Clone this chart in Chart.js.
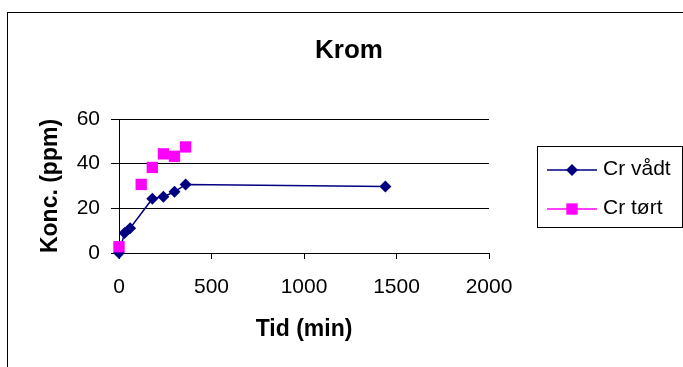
<!DOCTYPE html>
<html>
<head>
<meta charset="utf-8">
<script src="https://cdn.jsdelivr.net/npm/chart.js@4/dist/chart.umd.min.js"></script>
<style>
  html, body { margin: 0; padding: 0; background: #ffffff; }
  #wrap { width: 683px; height: 367px; position: relative; }
  canvas { display: block; }
</style>
</head>
<body>
<div id="wrap"><canvas id="c" width="683" height="367"></canvas></div>
<script>
// ---- data ----
const chartTitle = "Krom";
const xTitle = "Tid (min)";
const yTitle = "Konc. (ppm)";
const seriesNames = ["Cr vådt", "Cr tørt"];
const wetTimes = [0, 30, 60, 180, 240, 300, 360, 1440];
const wetValues = [0, 8.9, 11.1, 24.3, 25.2, 27.4, 30.7, 29.8];
const dryTimes = [0, 120, 180, 240, 300, 360];
const dryValues = [2.8, 30.7, 38.3, 44.4, 43.3, 47.5];
const xTicks = [0, 500, 1000, 1500, 2000];
const yTicks = [0, 20, 40, 60];

const FONT = "'Liberation Sans', Arial, sans-serif";
const NAVY = "#000080";
const MAGENTA = "#FF00FF";

const toPoints = (xs, ys) => xs.map((x, i) => ({ x: x, y: ys[i] }));

function drawMarker(ctx, style, x, y, r, color) {
  ctx.save();
  ctx.fillStyle = color;
  ctx.beginPath();
  if (style === 'rectRot') {
    ctx.moveTo(x, y - r); ctx.lineTo(x + r, y); ctx.lineTo(x, y + r); ctx.lineTo(x - r, y);
    ctx.closePath();
  } else {
    const s = Math.SQRT1_2 * r;
    ctx.rect(x - s, y - s, 2 * s, 2 * s);
  }
  ctx.fill();
  ctx.restore();
}

const decorPlugin = {
  id: 'decor',
  beforeDraw(chart) {
    const ctx = chart.ctx;
    ctx.save();
    ctx.fillStyle = '#ffffff';
    ctx.fillRect(0, 0, chart.width, chart.height);
    ctx.restore();
  },
  afterDraw(chart) {
    const ctx = chart.ctx;
    ctx.save();
    // outer chart border
    ctx.strokeStyle = '#000000';
    ctx.lineWidth = 1;
    ctx.strokeRect(7.5, 12.5, 720, 400);
    // title
    ctx.fillStyle = '#000000';
    ctx.font = "bold 26px " + FONT;
    ctx.textAlign = 'center';
    ctx.textBaseline = 'middle';
    ctx.fillText(chartTitle, 349, 51);
    // legend box
    ctx.strokeStyle = '#000000';
    ctx.strokeRect(537.5, 146.5, 145, 81);
    const items = [
      { name: seriesNames[0], color: NAVY, style: 'rectRot', r: 6, y: 170 },
      { name: seriesNames[1], color: MAGENTA, style: 'rect', r: 8, y: 209 }
    ];
    items.forEach(it => {
      ctx.strokeStyle = it.color;
      ctx.lineWidth = 1.5;
      ctx.beginPath();
      ctx.moveTo(547, it.y);
      ctx.lineTo(597, it.y);
      ctx.stroke();
      drawMarker(ctx, it.style, 572, it.y, it.r, it.color);
      ctx.fillStyle = '#000000';
      ctx.font = "21px " + FONT;
      ctx.textAlign = 'left';
      ctx.textBaseline = 'middle';
      ctx.fillText(it.name, 603, it.y - 1);
    });
    ctx.restore();
  }
};

new Chart(document.getElementById('c'), {
  type: 'scatter',
  data: {
    datasets: [
      {
        label: seriesNames[0],
        data: toPoints(wetTimes, wetValues),
        showLine: true,
        borderColor: NAVY,
        backgroundColor: NAVY,
        borderWidth: 1.5,
        pointStyle: 'rectRot',
        pointRadius: 6,
        pointBorderWidth: 0,
        pointBackgroundColor: NAVY,
        clip: false,
        order: 2
      },
      {
        label: seriesNames[1],
        data: toPoints(dryTimes, dryValues),
        showLine: false,
        borderColor: MAGENTA,
        backgroundColor: MAGENTA,
        pointStyle: 'rect',
        pointRadius: 8,
        pointBorderWidth: 0,
        pointBackgroundColor: MAGENTA,
        clip: false,
        order: 1
      }
    ]
  },
  options: {
    responsive: false,
    animation: false,
    devicePixelRatio: 1,
    layout: { padding: { left: 37, top: 119, right: 194, bottom: 24 } },
    plugins: {
      legend: { display: false },
      title: { display: false },
      tooltip: { enabled: false }
    },
    scales: {
      x: {
        type: 'linear',
        min: 0, max: 2000,
        afterFit(scale) { scale.height = 90; },
        afterBuildTicks(scale) { scale.ticks = xTicks.map(v => ({ value: v })); },
        grid: { drawOnChartArea: false, drawTicks: true, tickLength: 6, color: '#000000', lineWidth: 1 },
        border: { display: true, color: '#000000', width: 1 },
        ticks: { color: '#000000', font: { family: FONT, size: 21 }, padding: 16, maxRotation: 0, callback: v => String(v) },
        title: { display: true, text: xTitle, color: '#000000', font: { family: FONT, size: 23, weight: 'bold' }, padding: 0 }
      },
      y: {
        type: 'linear',
        min: 0, max: 60,
        afterFit(scale) { scale.width = 82; },
        afterBuildTicks(scale) { scale.ticks = yTicks.map(v => ({ value: v })); },
        grid: { drawOnChartArea: true, drawTicks: true, tickLength: 8, color: '#000000', lineWidth: 1 },
        border: { display: true, color: '#000000', width: 1 },
        ticks: { color: '#000000', font: { family: FONT, size: 21 }, padding: 11, callback: v => String(v) },
        title: { display: true, text: yTitle, color: '#000000', font: { family: FONT, size: 23, weight: 'bold' }, padding: 0 }
      }
    }
  },
  plugins: [decorPlugin]
});
</script>
</body>
</html>
